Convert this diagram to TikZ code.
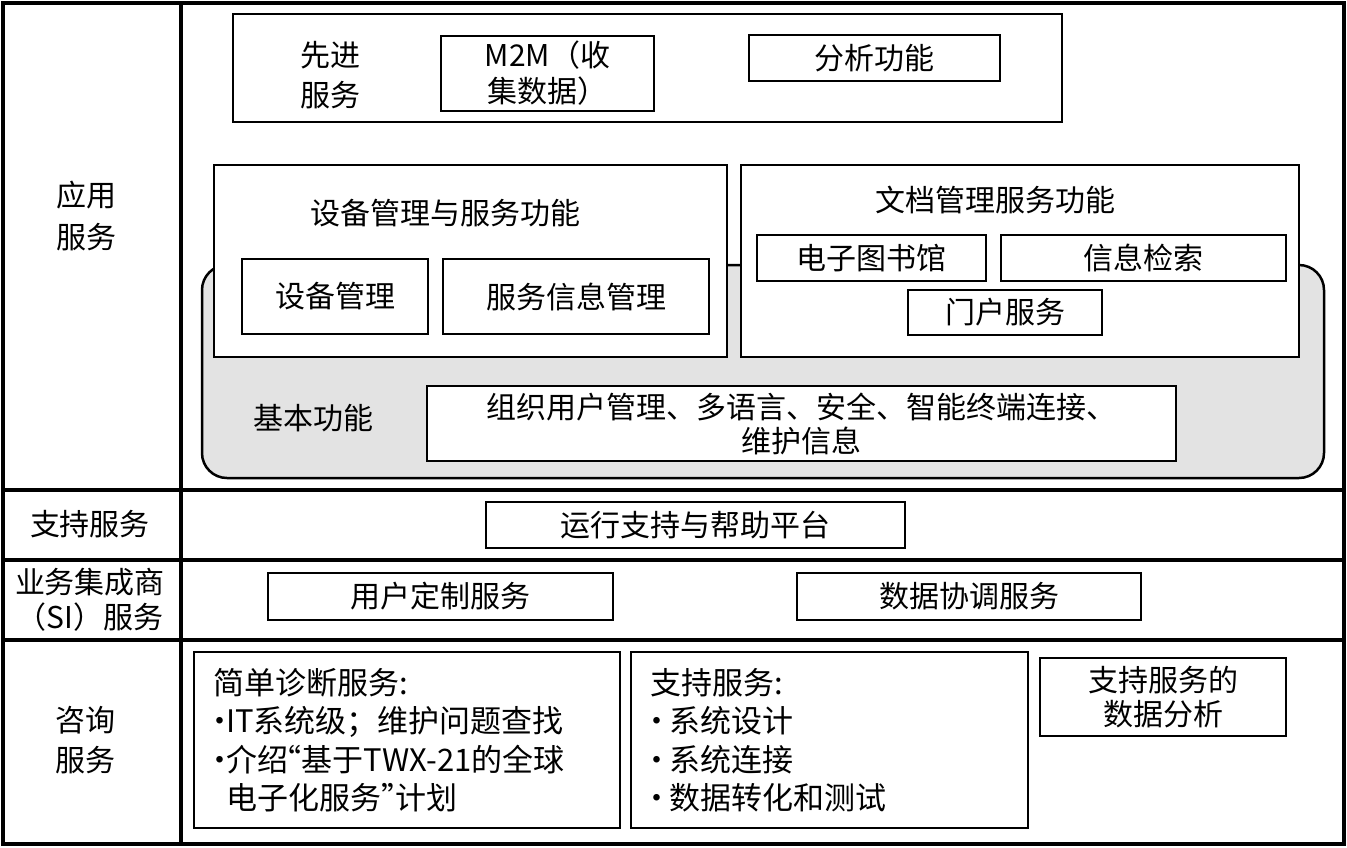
\documentclass[tikz,border=0pt]{standalone}
\usepackage{fontspec}
\setmainfont{Noto Sans CJK SC}
\usetikzlibrary{positioning}
\newcommand\bul{\makebox[0.42em][c]{•}}
\newcommand\oquote{\makebox[0.45em][r]{“}}
\newcommand\cquote{\makebox[0.45em][l]{”}}

\begin{document}
\begin{tikzpicture}[x=1pt,y=-1pt,
    grid/.style={line width=3.5pt},
    cell/.style={font=\fontsize{30}{42}\selectfont,align=center},
    box/.style={draw,line width=2.5pt,fill=white,inner sep=0pt,font=\fontsize{30}{36}\selectfont,align=center},
    listbox/.style={box,align=left,inner xsep=19pt,font=\fontsize{31}{38.5}\selectfont},
    basebox/.style={draw,line width=2.5pt,fill=black!11,rounded corners=25pt}
  ]
  \useasboundingbox (0,0) rectangle (1347,847);

  % table grid
  \draw[grid] (3,3) rectangle (1344,844);
  \draw[grid] (181,3) -- (181,844);
  \draw[grid] (3,490) -- (1344,490) (3,560) -- (1344,560) (3,640) -- (1344,640);

  % row labels
  \node[cell] (app) at (86,216) {应用\\服务};
  \node[cell] (sup) at (90,524) {支持服务};
  \node[cell, font=\fontsize{30}{35}\selectfont] (si) at (90,600) {业务集成商\\（SI）服务};
  \node[cell, font=\fontsize{30}{40}\selectfont] (cons) at (85,740) {咨询\\服务};

  % application services
  \node[box, minimum width=829pt, minimum height=108pt] (adv) at (647.5,68) {};
  \node[cell, font=\fontsize{30}{40}\selectfont] (advlbl) at (330,75) {先进\\服务};
  \node[box, minimum width=213pt, minimum height=75pt] (m2m) at (547.5,73.5) {M2M（收\\集数据）};
  \node[box, minimum width=251pt, minimum height=46pt] (ana) at (874.5,58) {分析功能};

  \node[basebox, minimum width=1122pt, minimum height=213pt] (base) at (763,371.5) {};
  \node[cell] (baselbl) at (313,418) {基本功能};
  \node[box, font=\fontsize{30}{34}\selectfont, minimum width=749pt, minimum height=75pt] (basic) at (801.5,423.5) {组织用户管理、多语言、安全、智能终端连接、\\维护信息};

  \node[box, minimum width=513pt, minimum height=192pt] (dev) at (470.5,261) {};
  \node[cell] (devlbl) at (445,213) {设备管理与服务功能};
  \node[box, minimum width=186pt, minimum height=75pt] (devm) at (335,296.5) {设备管理};
  \node[box, minimum width=266pt, minimum height=75pt] (svcinfo) at (576,296.5) {服务信息管理};

  \node[box, minimum width=558pt, minimum height=192pt] (doc) at (1020,261) {};
  \node[cell] (doclbl) at (995,200) {文档管理服务功能};
  \node[box, minimum width=229pt, minimum height=46pt] (lib) at (871.5,258) {电子图书馆};
  \node[box, minimum width=285pt, minimum height=46pt] (search) at (1143.5,258) {信息检索};
  \node[box, minimum width=194pt, minimum height=45pt] (portal) at (1005,312.5) {门户服务};

  % support services
  \node[box, minimum width=419pt, minimum height=46pt] (ops) at (695.5,525) {运行支持与帮助平台};

  % SI services
  \node[box, minimum width=345pt, minimum height=47pt] (custom) at (440.5,596.5) {用户定制服务};
  \node[box, minimum width=344pt, minimum height=47pt] (coord) at (969,596.5) {数据协调服务};

  % consulting services
  \node[listbox, text width=388pt, minimum height=176pt] (diag) at (407,740)
    {简单诊断服务:\\\bul IT系统级；维护问题查找\\\bul 介绍\oquote 基于TWX-21的全球\\\phantom{\bul}电子化服务\cquote 计划};
  \node[listbox, text width=359pt, minimum height=176pt] (supp) at (829.5,740)
    {支持服务:\\\bul\hspace{6pt}系统设计\\\bul\hspace{6pt}系统连接\\\bul\hspace{6pt}数据转化和测试};
  \node[box, font=\fontsize{30}{34}\selectfont, minimum width=246pt, minimum height=78pt] (dataana) at (1163,697) {支持服务的\\数据分析};
\end{tikzpicture}
\end{document}
